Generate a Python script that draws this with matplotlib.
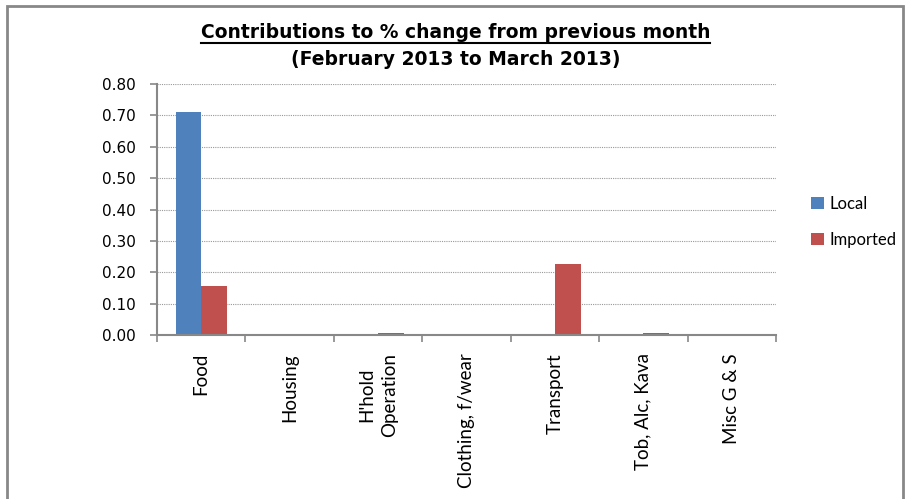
import matplotlib.pyplot as plt
import numpy as np
from matplotlib.patches import Rectangle

# data
categories = ["Food", "Housing", "H'hold\nOperation", "Clothing, f/wear",
              "Transport", "Tob, Alc, Kava", "Misc G & S"]
local = [0.71, 0.0, 0.0, 0.0, 0.0, 0.0, 0.0]
imported = [0.155, 0.0, 0.005, 0.0, 0.225, 0.007, 0.0]
yticks = [0.0, 0.1, 0.2, 0.3, 0.4, 0.5, 0.6, 0.7, 0.8]

W, H = 911, 499
fig = plt.figure(figsize=(W / 100, H / 100), dpi=100)
# plot area: x 157..776, y 84..335 (pixels)
ax = fig.add_axes([157 / W, 1 - 335 / H, (776 - 157) / W, (335 - 84) / H])

# chart border (bottom runs off the picture)
fig.patches.append(Rectangle((7 / W, -0.05), (903 - 7) / W, 1.05 - 6 / H,
                             transform=fig.transFigure, fill=False,
                             edgecolor='#888888', linewidth=2))

x = np.arange(len(categories))
w = 0.29
ax.bar(x - w / 2, local, w, color='#4F81BD', label='Local')
ax.bar(x + w / 2, imported, w, color='#C0504D', label='Imported')

ax.set_xlim(-0.5, len(categories) - 0.5)
ax.set_ylim(0, 0.8)
ax.set_yticks(yticks)
ax.set_yticklabels(['%.2f' % v for v in yticks], fontfamily='DejaVu Sans', fontsize=11)
ax.yaxis.grid(True, linestyle=(0, (1, 1)), color='#999999', linewidth=0.8)
ax.set_axisbelow(True)

ax.set_xticks(x)
ax.set_xticklabels(categories, rotation=90, fontfamily='Lato', fontsize=13.5,
                   linespacing=1.45)
ax.tick_params(axis='x', length=0, pad=13)
ax.set_xticks(np.arange(-0.5, len(categories)), minor=True)
ax.tick_params(axis='x', which='minor', length=5, width=1.2, color='#888888')
ax.tick_params(axis='y', length=5, width=1.2, color='#888888', pad=10)

for s in ['top', 'right']:
    ax.spines[s].set_visible(False)
for s in ['left', 'bottom']:
    ax.spines[s].set_color('#888888')
    ax.spines[s].set_linewidth(1.5)

t1 = fig.text(0.5, 1 - 38 / H, "Contributions to % change from previous month",
              ha='center', va='baseline', fontfamily='DejaVu Sans', fontsize=13.5,
              fontweight='bold')
fig.text(0.5, 1 - 65 / H, "(February 2013 to March 2013)",
         ha='center', va='baseline', fontfamily='DejaVu Sans', fontsize=13.5,
         fontweight='bold')
# underline for first title line, sized from the drawn text
fig.canvas.draw()
bb = t1.get_window_extent().transformed(fig.transFigure.inverted())
fig.add_artist(plt.Line2D([bb.x0, bb.x1], [1 - 43 / H, 1 - 43 / H],
                          transform=fig.transFigure, color='black', linewidth=1.5))

fig.legend(loc='center left', bbox_to_anchor=(811 / W, 1 - 222 / H), frameon=False,
           prop={'family': 'Lato', 'size': 12}, handlelength=0.75,
           handleheight=0.75, handletextpad=0.35, labelspacing=1.2,
           borderpad=0, borderaxespad=0)

fig.savefig('out.png', dpi=100)
